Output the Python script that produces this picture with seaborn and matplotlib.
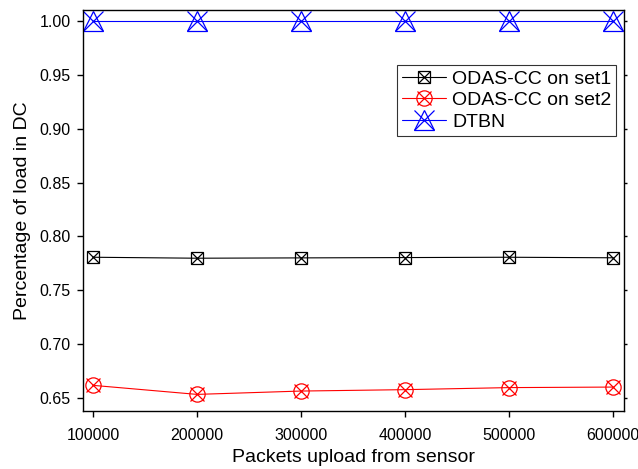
import matplotlib
matplotlib.use("Agg")
import matplotlib.pyplot as plt
from matplotlib.lines import Line2D
from matplotlib.legend_handler import HandlerTuple
import seaborn as sns
import pandas as pd

# Packets uploaded from sensor
packets = [100000, 200000, 300000, 400000, 500000, 600000]

# Percentage of load handled in the data center
set1 = [0.7807, 0.7798, 0.7801, 0.7804, 0.7807, 0.7802]
set2 = [0.6618, 0.6534, 0.6565, 0.6578, 0.6597, 0.6602]
dtbn = [1.00, 1.00, 1.00, 1.00, 1.00, 1.00]

series_names = ["ODAS-CC on set1", "ODAS-CC on set2", "DTBN"]
y_ticks = [0.65, 0.70, 0.75, 0.80, 0.85, 0.90, 0.95, 1.00]

df = pd.DataFrame({
    "packets": packets * 3,
    "load": set1 + set2 + dtbn,
    "series": [s for s in series_names for _ in packets],
})

sns.set_theme(style="ticks")
plt.rcParams["font.family"] = ["Liberation Sans", "DejaVu Sans"]
plt.rcParams["text.color"] = "black"
plt.rcParams["axes.labelcolor"] = "black"

fig = plt.figure(figsize=(6.38, 4.69), dpi=100)
ax = fig.add_axes([0.130, 0.1237, 0.848, 0.855])

# marker recipe per series: (main marker, size, overlay marker, size)
styles = {
    "ODAS-CC on set1": dict(color="black", m1="s", s1=8.0, m2="x", s2=8.0),
    "ODAS-CC on set2": dict(color="red", m1="o", s1=11.0, m2="x", s2=9.5),
    "DTBN": dict(color="blue", m1="^", s1=14.0, m2="x", s2=14.0),
}

handles = []
for name in series_names:
    st = styles[name]
    sub = df[df["series"] == name]
    sns.lineplot(data=sub, x="packets", y="load", ax=ax, color=st["color"],
                 linewidth=0.8, marker=st["m1"], markersize=st["s1"],
                 markerfacecolor="none", markeredgecolor=st["color"],
                 markeredgewidth=0.9, legend=False)
    sns.lineplot(data=sub, x="packets", y="load", ax=ax, color=st["color"],
                 linestyle="", marker=st["m2"], markersize=st["s2"],
                 markeredgecolor=st["color"], markeredgewidth=0.9,
                 legend=False)
    h1 = Line2D([], [], color=st["color"], linewidth=0.8, marker=st["m1"],
                markersize=st["s1"], markerfacecolor="none",
                markeredgecolor=st["color"], markeredgewidth=0.9)
    h2 = Line2D([], [], color=st["color"], linestyle="", marker=st["m2"],
                markersize=st["s2"], markeredgecolor=st["color"],
                markeredgewidth=0.9)
    handles.append((h1, h2))

ax.set_xlim(90400, 610500)
ax.set_ylim(0.638, 1.0102)
ax.set_xticks(packets)
ax.set_xticklabels([str(p) for p in packets])
ax.set_yticks(y_ticks)
ax.set_yticklabels([f"{v:.2f}" for v in y_ticks])

ax.set_xlabel("Packets upload from sensor", fontsize=14, labelpad=4)
ax.set_ylabel("Percentage of load in DC", fontsize=14, labelpad=6)

for side in ["top", "right", "bottom", "left"]:
    ax.spines[side].set_visible(True)
    ax.spines[side].set_color("black")
    ax.spines[side].set_linewidth(1.0)

ax.tick_params(axis="x", direction="out", length=4.5, width=1.0,
               labelsize=11.5, pad=8, colors="black")
ax.tick_params(axis="y", direction="out", length=4.5, width=1.0,
               labelsize=11.5, pad=4.5, colors="black")
ax.tick_params(axis="y", which="major", right=True, labelright=False)
for t in ax.yaxis.get_major_ticks():
    t.tick2line.set_markersize(2.5)

leg = ax.legend(handles, series_names,
                handler_map={tuple: HandlerTuple(ndivide=1, pad=0.0)},
                loc="upper left", bbox_to_anchor=(0.580, 0.862),
                fontsize=14, frameon=True, fancybox=False, shadow=False,
                handlelength=2.3, handletextpad=0.3, labelspacing=0.2,
                borderpad=0.25, borderaxespad=0.0, numpoints=1)
leg.get_frame().set_edgecolor("black")
leg.get_frame().set_linewidth(0.8)

fig.savefig("out.png", dpi=100)
